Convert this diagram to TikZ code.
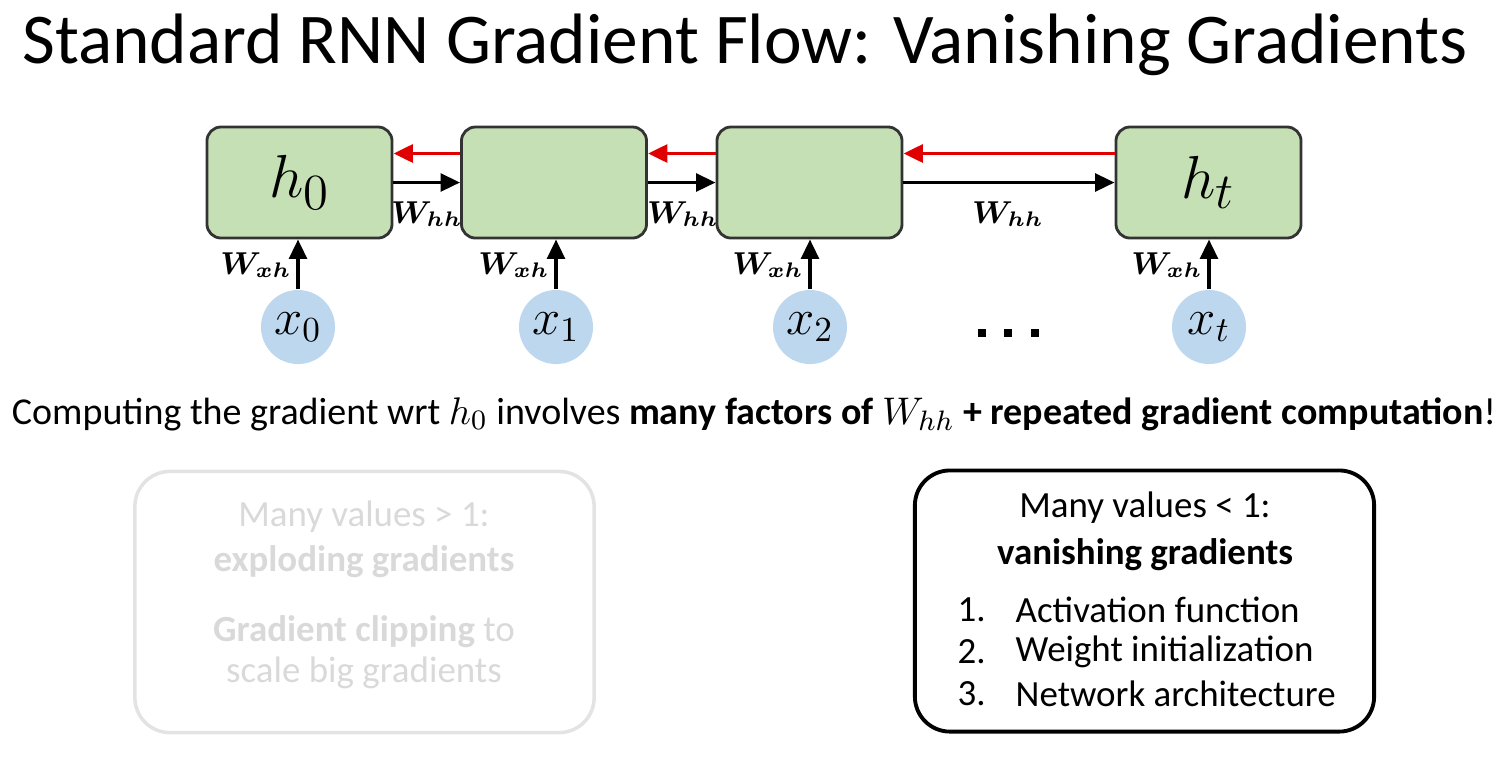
\documentclass[tikz,border=0pt]{standalone}
\usepackage{fontspec}
\setmainfont{Carlito}
\usepackage{amsmath,bm}
\usetikzlibrary{arrows.meta,positioning}

\definecolor{cell-fill-color}{HTML}{C5E0B4}
\definecolor{cell-draw-color}{HTML}{333333}
\definecolor{input-fill-color}{HTML}{BDD7EE}
\definecolor{grad-color}{HTML}{E00000}
\definecolor{faded-color}{HTML}{D9D9D9}
\definecolor{faded-line-color}{HTML}{E3E3E3}

\begin{document}
\begin{tikzpicture}[x=0.01cm,y=-0.01cm,
cell/.style={rectangle, rounded corners=4pt, draw=cell-draw-color, line width=0.8pt, fill=cell-fill-color, minimum width=1.85cm, minimum height=1.11cm, inner sep=0pt},
input/.style={circle, fill=input-fill-color, minimum size=0.74cm, inner sep=0pt},
fwd/.style={-{Triangle[length=5.5pt,width=5pt]}, line width=1pt, black},
bwd/.style={-{Triangle[length=5.5pt,width=5pt]}, line width=1.1pt, grad-color},
panel/.style={rectangle, rounded corners=3.5mm, minimum width=4.59cm, minimum height=2.61cm}]
\tikzstyle{wlabel}=[inner sep=0pt, font=\fontsize{9}{10}\selectfont]
\tikzstyle{body}=[inner sep=0pt, font=\fontsize{10.8}{13}\selectfont]
\tikzstyle{paneltext}=[inner sep=0pt, font=\fontsize{10.5}{12}\selectfont]

\useasboundingbox (0,0) rectangle (1512,756);

% title
\node (title) at (745,45) {\fontsize{20.3}{24}\selectfont Standard RNN Gradient Flow: Vanishing Gradients};

% cells
\node[cell] (h0) at (299.5,182.5) {\fontsize{19}{22}\selectfont$h_0$};
\node[cell] (h1) at (554,182.5) {};
\node[cell] (h2) at (809.5,182.5) {};
\node[cell] (ht) at (1208.5,182.5) {\fontsize{19}{22}\selectfont$h_t$};

% inputs
\node[input] (x0) at (298,327) {\fontsize{14}{15}\selectfont$x_0$};
\node[input] (x1) at (556,327) {\fontsize{14}{15}\selectfont$x_1$};
\node[input] (x2) at (810,327) {\fontsize{14}{15}\selectfont$x_2$};
\node[input] (xt) at (1209,327) {\fontsize{14}{15}\selectfont$x_t$};

% forward flow
\draw[fwd] (h0) -- (h1);
\draw[fwd] (h1) -- (h2);
\draw[fwd] (h2) -- (ht);
\foreach \x/\h in {x0/h0,x1/h1,x2/h2,xt/ht}
  \draw[fwd] (\x) -- (\x |- \h.south);

% gradient flow
\draw[bwd] ([yshift=2.9mm]h1.west) -- ([yshift=2.9mm]h0.east);
\draw[bwd] ([yshift=2.9mm]h2.west) -- ([yshift=2.9mm]h1.east);
\draw[bwd] ([yshift=2.9mm]ht.west) -- ([yshift=2.9mm]h2.east);

% weights
\node[wlabel] (whh0) at (427,214) {$\bm{W_{hh}}$};
\node[wlabel] (whh1) at (683,214) {$\bm{W_{hh}}$};
\node[wlabel] (whh2) at (1008,214) {$\bm{W_{hh}}$};
\node[wlabel] (wxh0) at (256,265) {$\bm{W_{xh}}$};
\node[wlabel] (wxh1) at (514,265) {$\bm{W_{xh}}$};
\node[wlabel] (wxh2) at (768,265) {$\bm{W_{xh}}$};
\node[wlabel] (wxht) at (1167,265) {$\bm{W_{xh}}$};

% dots
\foreach \d in {982,1008,1035}
  \fill (\d-4,329) rectangle (\d+4,337);

% statement
\node[body] (claim) at (754,414) {Computing the gradient wrt $h_0$ involves \textbf{many factors of $W_{hh}$ + repeated gradient computation}!};

% exploding (faded)
\node[panel, draw=faded-line-color, line width=1pt] (explode) at (364.5,602) {};
\node[paneltext, text=faded-color] (ex1) at (364,517) {Many values > 1:};
\node[paneltext, text=faded-color] (ex2) at (364,562) {\textbf{exploding gradients}};
\node[paneltext, text=faded-color] (ex3) at (364,632) {\textbf{Gradient clipping} to};
\node[paneltext, text=faded-color] (ex4) at (364,673) {scale big gradients};

% vanishing
\node[panel, draw=black, line width=1.1pt] (vanish) at (1144.5,601) {};
\node[paneltext] (va1) at (1145,508) {Many values < 1:};
\node[paneltext] (va2) at (1145,555) {\textbf{vanishing gradients}};
\foreach \n/\txt [count=\i] in {1./Activation function, 2./Weight initialization, 3./Network architecture} {
  \node[paneltext, anchor=west] (num\i) at (957,568+42*\i) {\n};
  \node[paneltext, anchor=west] (item\i) at (1015,568+42*\i) {\txt};
}

\end{tikzpicture}
\end{document}
